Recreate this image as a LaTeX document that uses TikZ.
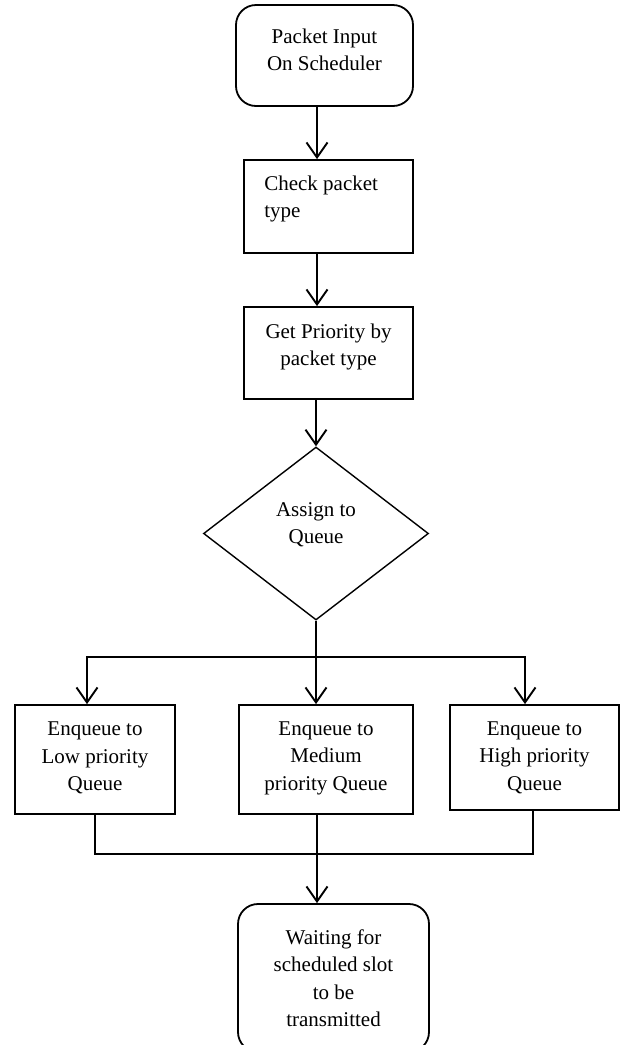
\documentclass[tikz,border=0pt]{standalone}
\usepackage{fontspec}
\setmainfont{Liberation Serif}
\usetikzlibrary{shapes.geometric,arrows.meta}
\begin{document}
\begin{tikzpicture}[x=1pt,y=-1pt,
  box/.style={draw, line width=1.8pt, inner sep=0pt},
  rbox/.style={box, rounded corners=20pt},
  txt/.style={inner sep=0pt, align=center, font=\fontsize{21}{27.5}\selectfont},
  arr/.style={line width=2pt, -{Straight Barb[length=15pt,width=21pt,line width=1.9pt]}},
  conn/.style={line width=1.8pt}
]
\useasboundingbox (0,0) rectangle (622,1045);
\coordinate (ax) at (317,0);
\node[rbox, minimum width=177pt, minimum height=101pt,
  label={[txt,yshift=5.5pt]center:Packet Input\\On Scheduler}] (start) at (324.5,55.5) {};
\node[box, minimum width=169pt, minimum height=93pt,
  label={[txt,align=left,anchor=west,xshift=21pt,yshift=7.5pt]west:Check packet\\type}] (chk) at (328.5,206.5) {};
\node[box, minimum width=169pt, minimum height=92pt,
  label={[txt,yshift=6pt]center:Get Priority by\\packet type}] (prio) at (328.5,353) {};
\node[draw, diamond, line width=1.4pt, inner sep=0pt, minimum width=225pt, minimum height=173pt,
  label={[txt,yshift=9pt]center:Assign to\\Queue}] (dec) at (316,533.5) {};
\node[box, minimum width=160pt, minimum height=109pt,
  label={[txt,yshift=1.5pt]center:Enqueue to\\Low priority\\Queue}] (low) at (95,759.5) {};
\node[box, minimum width=174pt, minimum height=109pt,
  label={[txt,yshift=1.5pt]center:Enqueue to\\Medium\\priority Queue}] (med) at (326,759.5) {};
\node[box, minimum width=169pt, minimum height=105pt,
  label={[txt,yshift=0pt]center:Enqueue to\\High priority\\Queue}] (high) at (534.5,757.5) {};
\node[rbox, minimum width=191pt, minimum height=148pt,
  label={[txt]center:Waiting for\\scheduled slot\\to be\\transmitted}] (wait) at (333.5,978) {};

\draw[arr] (start.south -| ax) -- (chk.north -| ax);
\draw[arr] (chk.south -| ax) -- (prio.north -| ax);
\draw[arr] (prio.south -| dec.north) -- (dec.north);
\draw[arr] (dec.south) -- (dec.south |- med.north);

\coordinate (bl) at (87,657);
\coordinate (br) at (525,657);
\draw[arr] (br) -- (bl) -- (bl |- low.north);
\draw[arr] (bl) -- (br) -- (br |- high.north);

\coordinate (jl) at (95,854);
\coordinate (jr) at (533,854);
\draw[conn] (low.south) -- (jl) -- (jr) -- (jr |- high.south);
\draw[arr] (med.south -| ax) -- (wait.north -| ax);
\end{tikzpicture}
\end{document}
